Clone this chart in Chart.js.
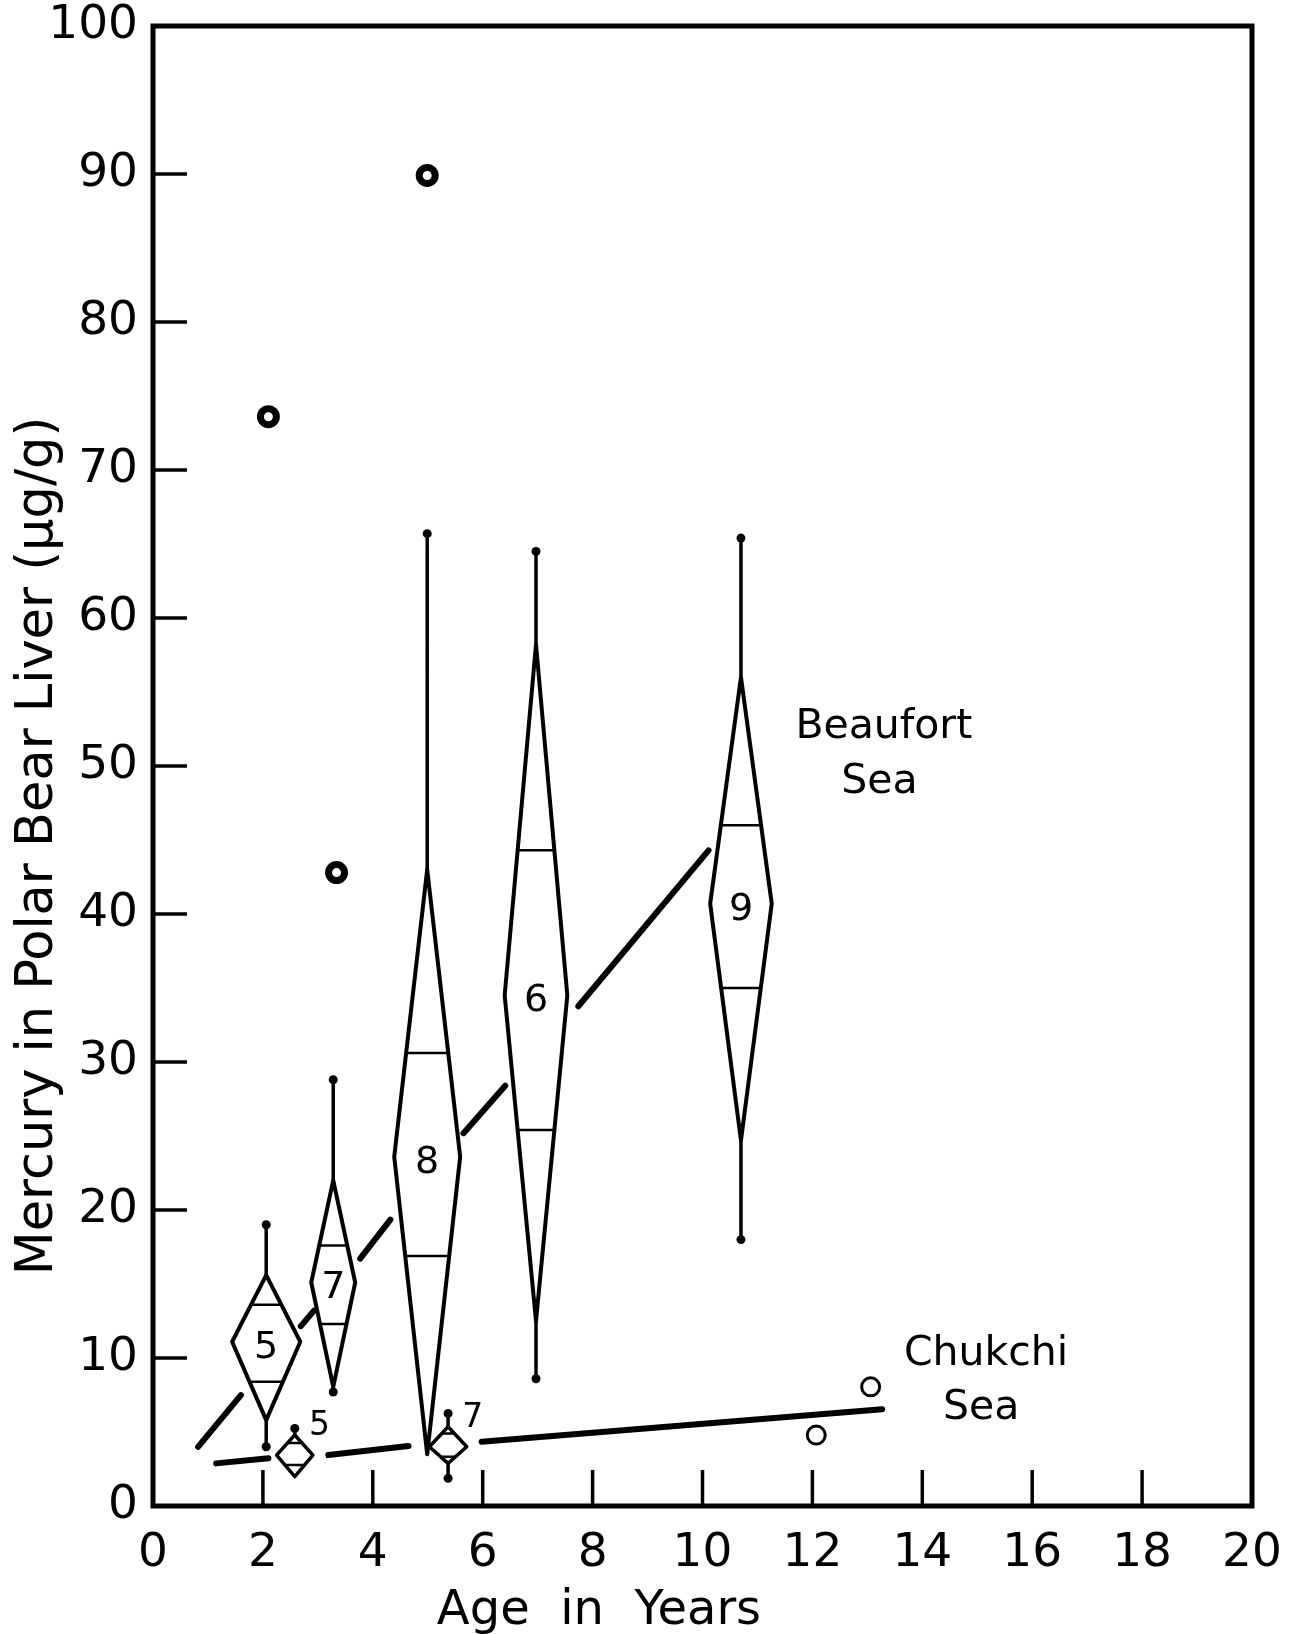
<!DOCTYPE html>
<html>
<head>
<meta charset="utf-8">
<script src="https://cdn.jsdelivr.net/npm/chart.js@4.4.0/dist/chart.umd.min.js"></script>
<style>
    html, body { margin: 0; padding: 0; background: #fff; }
    #wrap { width: 1289px; height: 1634px; }
</style>
</head>
<body>
<div id="wrap"><canvas id="mercuryChart" width="1289" height="1634"></canvas></div>
<script>
// Beaufort Sea age groups (µg/g)
const beaufortAge = [2.06, 3.28, 4.99, 6.97, 10.70];
const beaufortN = ['5', '7', '8', '6', '9'];
const beaufortMax = [19.0, 28.8, 65.7, 64.5, 65.4];
const beaufortTop = [15.6, 22.0, 43.0, 58.2, 56.0];
const beaufortUpper = [13.6, 17.6, 30.6, 44.3, 46.0];
const beaufortMean = [11.1, 15.1, 23.6, 34.5, 40.7];
const beaufortLower = [8.4, 12.3, 16.9, 25.4, 35.0];
const beaufortBottom = [5.8, 8.05, 3.5, 12.5, 24.7];
const beaufortMin = [4.0, 7.7, null, 8.6, 18.0];

// Chukchi Sea age groups
const chukchiAge = [2.58, 5.37];
const chukchiN = ['5', '7'];
const chukchiMax = [5.24, 6.25];
const chukchiTop = [4.8, 5.35];
const chukchiUpper = [4.25, 4.9];
const chukchiMean = [3.44, 4.0];
const chukchiLower = [2.77, 3.33];
const chukchiBottom = [1.98, 2.88];
const chukchiMin = [null, 1.87];

// single bears plotted as circles
const beaufortOutAge = [2.1, 3.34, 4.99];
const beaufortOutHg = [73.6, 42.8, 89.9];
const chukchiOutAge = [12.07, 13.06];
const chukchiOutHg = [4.79, 8.05];

// regression lines, broken where they pass the diamonds
const beaufortFitAge = [[0.82, 1.6], [2.69, 2.93], [3.77, 4.32], [5.65, 6.41], [7.74, 10.11]];
const beaufortFitHg = [[4.0, 7.49], [12.15, 13.2], [16.71, 19.35], [25.19, 28.4], [33.77, 44.3]];
const chukchiFitAge = [[1.15, 2.1], [3.19, 4.65], [5.98, 13.27]];
const chukchiFitHg = [[2.88, 3.22], [3.44, 4.05], [4.34, 6.54]];

const xTicks = [0, 2, 4, 6, 8, 10, 12, 14, 16, 18, 20];
const yTicks = [0, 10, 20, 30, 40, 50, 60, 70, 80, 90, 100];

// half widths of the diamonds, in years
const beaufortHalfWidth = [0.62, 0.40, 0.60, 0.57, 0.56];
const chukchiHalfWidth = [0.33, 0.34];

const FONT = '"DejaVu Sans", "Noto Sans", sans-serif';
const INK = '#000';

function outlinePoints(age, top, mean, bottom, hw) {
    const pts = [];
    age.forEach((a, i) => {
        pts.push(
            { x: a, y: top[i] },
            { x: a + hw[i], y: mean[i] },
            { x: a, y: bottom[i] },
            { x: a - hw[i], y: mean[i] },
            { x: a, y: top[i] },
            { x: a, y: null }
        );
    });
    return pts;
}

function barPoints(age, top, upper, mean, lower, bottom, hw) {
    const pts = [];
    age.forEach((a, i) => {
        const wu = hw[i] * (top[i] - upper[i]) / (top[i] - mean[i]);
        const wl = hw[i] * (lower[i] - bottom[i]) / (mean[i] - bottom[i]);
        pts.push(
            { x: a - wu, y: upper[i] }, { x: a + wu, y: upper[i] }, { x: a, y: null },
            { x: a - wl, y: lower[i] }, { x: a + wl, y: lower[i] }, { x: a, y: null }
        );
    });
    return pts;
}

function whiskerPoints(age, max, top, bottom, min) {
    const pts = [];
    age.forEach((a, i) => {
        pts.push({ x: a, y: max[i] }, { x: a, y: top[i] }, { x: a, y: null });
        if (min[i] !== null) {
            pts.push({ x: a, y: bottom[i] }, { x: a, y: min[i] }, { x: a, y: null });
        }
    });
    return pts;
}

function whiskerEnds(age, max, min) {
    const pts = [];
    age.forEach((a, i) => {
        pts.push({ x: a, y: max[i] });
        if (min[i] !== null) pts.push({ x: a, y: min[i] });
    });
    return pts;
}

function segmentPoints(ageSegs, hgSegs) {
    const pts = [];
    ageSegs.forEach((seg, i) => {
        pts.push({ x: seg[0], y: hgSegs[i][0] }, { x: seg[1], y: hgSegs[i][1] }, { x: seg[1], y: null });
    });
    return pts;
}

function lineSet(data, width, cap) {
    return {
        data: data,
        showLine: true,
        borderColor: INK,
        borderWidth: width,
        borderCapStyle: cap || 'round',
        borderJoinStyle: 'round',
        pointRadius: 0,
        pointHoverRadius: 0,
        spanGaps: false
    };
}

// frame, inward tick marks, numbers and hand lettering
const lettering = {
    id: 'lettering',
    afterDatasetsDraw(chart) {
        const ctx = chart.ctx;
        const xs = chart.scales.x;
        const ys = chart.scales.y;
        const area = chart.chartArea;
        const px = v => xs.getPixelForValue(v);
        const py = v => ys.getPixelForValue(v);

        ctx.save();
        ctx.strokeStyle = INK;
        ctx.fillStyle = INK;

        ctx.lineWidth = 5;
        ctx.strokeRect(area.left, area.top, area.right - area.left, area.bottom - area.top);

        ctx.lineWidth = 3.5;
        xTicks.slice(1, -1).forEach(v => {
            ctx.beginPath();
            ctx.moveTo(px(v), area.bottom);
            ctx.lineTo(px(v), area.bottom - 36);
            ctx.stroke();
        });
        yTicks.slice(1, -1).forEach(v => {
            ctx.beginPath();
            ctx.moveTo(area.left, py(v));
            ctx.lineTo(area.left + 34, py(v));
            ctx.stroke();
        });

        ctx.textAlign = 'center';
        ctx.textBaseline = 'middle';
        ctx.font = '38px ' + FONT;
        beaufortAge.forEach((a, i) => ctx.fillText(beaufortN[i], px(a), py(beaufortMean[i]) + 6));
        ctx.font = '33px ' + FONT;
        chukchiAge.forEach((a, i) => ctx.fillText(chukchiN[i], px(a + 0.45), py(chukchiTop[i] + 0.6)));

        ctx.textBaseline = 'alphabetic';
        ctx.font = '41px ' + FONT;
        ctx.fillText('Beaufort', px(13.3), py(51.9));
        ctx.fillText('Sea', px(13.22), py(48.2));
        ctx.fillText('Chukchi', px(15.16), py(9.51));
        ctx.fillText('Sea', px(15.07), py(5.87));

        ctx.font = '48px ' + FONT;
        ctx.fillText('Age  in  Years', 599, 1624);

        ctx.translate(39, 846);
        ctx.rotate(-Math.PI / 2);
        ctx.textBaseline = 'middle';
        ctx.font = '51px ' + FONT;
        ctx.fillText('Mercury in Polar Bear Liver (\u03bcg/g)', 0, 0);
        ctx.restore();
    }
};

new Chart(document.getElementById('mercuryChart'), {
    type: 'scatter',
    data: {
        datasets: [
            lineSet(segmentPoints(beaufortFitAge, beaufortFitHg), 6),
            lineSet(segmentPoints(chukchiFitAge, chukchiFitHg), 6),
            lineSet(outlinePoints(beaufortAge, beaufortTop, beaufortMean, beaufortBottom, beaufortHalfWidth), 4),
            lineSet(outlinePoints(chukchiAge, chukchiTop, chukchiMean, chukchiBottom, chukchiHalfWidth), 3.5),
            lineSet(barPoints(beaufortAge, beaufortTop, beaufortUpper, beaufortMean, beaufortLower, beaufortBottom, beaufortHalfWidth), 2.5, 'butt'),
            lineSet(barPoints(chukchiAge, chukchiTop, chukchiUpper, chukchiMean, chukchiLower, chukchiBottom, chukchiHalfWidth), 2.5, 'butt'),
            lineSet(whiskerPoints(beaufortAge, beaufortMax, beaufortTop, beaufortBottom, beaufortMin), 3.5, 'butt'),
            lineSet(whiskerPoints(chukchiAge, chukchiMax, chukchiTop, chukchiBottom, chukchiMin), 3.5, 'butt'),
            {
                data: whiskerEnds(beaufortAge, beaufortMax, beaufortMin)
                    .concat(whiskerEnds(chukchiAge, chukchiMax, chukchiMin)),
                pointRadius: 4.5,
                pointBackgroundColor: INK,
                pointBorderWidth: 0
            },
            {
                data: beaufortOutAge.map((a, i) => ({ x: a, y: beaufortOutHg[i] })),
                pointRadius: 8,
                pointBorderWidth: 7,
                pointBorderColor: INK,
                pointBackgroundColor: '#fff'
            },
            {
                data: chukchiOutAge.map((a, i) => ({ x: a, y: chukchiOutHg[i] })),
                pointRadius: 9,
                pointBorderWidth: 3,
                pointBorderColor: INK,
                pointBackgroundColor: '#fff'
            }
        ]
    },
    options: {
        responsive: false,
        animation: false,
        events: [],
        layout: {
            padding: { top: 26, right: 37, left: 0, bottom: 0 }
        },
        plugins: {
            legend: { display: false },
            tooltip: { enabled: false }
        },
        scales: {
            x: {
                type: 'linear',
                min: 0,
                max: 20,
                afterBuildTicks: s => { s.ticks = xTicks.map(v => ({ value: v })); },
                afterFit: s => {
                    s.height = 128;
                    s.paddingLeft = 0;
                    s.paddingRight = 0;
                },
                grid: { display: false, drawTicks: false },
                border: { display: false },
                ticks: {
                    color: INK,
                    font: { family: FONT, size: 47, lineHeight: 1.2 },
                    padding: 20,
                    maxRotation: 0,
                    autoSkip: false
                }
            },
            y: {
                type: 'linear',
                min: 0,
                max: 100,
                afterBuildTicks: s => { s.ticks = yTicks.map(v => ({ value: v })); },
                afterFit: s => {
                    s.width = 153;
                    s.paddingTop = 0;
                    s.paddingBottom = 0;
                },
                grid: { display: false, drawTicks: false },
                border: { display: false },
                ticks: {
                    color: INK,
                    font: { family: FONT, size: 47, lineHeight: 1 },
                    padding: 15,
                    autoSkip: false
                }
            }
        }
    },
    plugins: [lettering]
});
</script>
</body>
</html>
